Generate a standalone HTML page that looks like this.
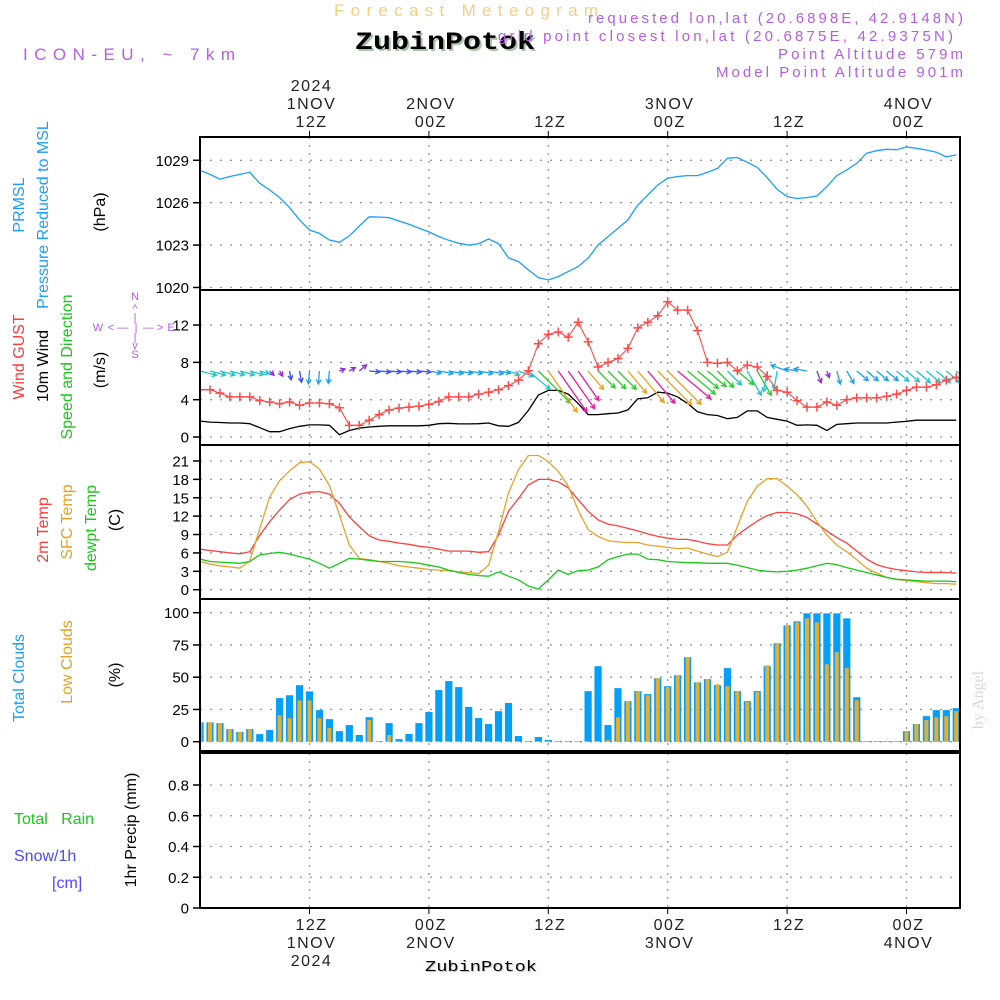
<!DOCTYPE html>
<html><head><meta charset="utf-8">
<style>
html,body{margin:0;padding:0;background:#fff;}
svg{display:block;font-family:"Liberation Sans",sans-serif;}
</style></head>
<body>
<svg id="chart" xmlns="http://www.w3.org/2000/svg" width="1000" height="1000" viewBox="0 0 1000 1000">
<defs>
<clipPath id="c1"><rect x="200" y="137" width="760" height="153"/></clipPath>
<clipPath id="c2"><rect x="200" y="290" width="760" height="155"/></clipPath>
<clipPath id="c3"><rect x="200" y="445" width="760" height="154"/></clipPath>
<clipPath id="c4"><rect x="200" y="599" width="760" height="152"/></clipPath>
</defs>
<text x="334" y="16" textLength="264" lengthAdjust="spacing" font-size="17" fill="#f3cf86">Forecast Meteogram</text>
<text x="357" y="51" textLength="180" lengthAdjust="spacingAndGlyphs" font-size="25" font-weight="bold" font-family="Liberation Mono,monospace" fill="#a9c2a9">ZubinPotok</text>
<text x="355" y="49" textLength="180" lengthAdjust="spacingAndGlyphs" font-size="25" font-weight="bold" font-family="Liberation Mono,monospace" fill="#000">ZubinPotok</text>
<text x="23" y="60" textLength="212" lengthAdjust="spacing" font-size="17" fill="#b45ee8">ICON-EU, ~ 7km</text>
<g font-size="15" fill="#b45ee8">
<text x="588" y="23" textLength="375" lengthAdjust="spacing">requested lon,lat (20.6898E, 42.9148N)</text>
<text x="498" y="41" textLength="455" lengthAdjust="spacing">grid point closest lon,lat (20.6875E, 42.9375N)</text>
<text x="778" y="59" textLength="185" lengthAdjust="spacing">Point Altitude 579m</text>
<text x="716" y="77" textLength="247" lengthAdjust="spacing">Model Point Altitude 901m</text>
</g>
<g id="grid"></g>
<g id="marks"></g>
<g id="axes"></g>
<g font-size="16">
<text transform="translate(24,205) rotate(-90)" text-anchor="middle" fill="#1a9fff">PRMSL</text>
<text transform="translate(48,215) rotate(-90)" text-anchor="middle" fill="#1a9fff">Pressure Reduced to MSL</text>
<text transform="translate(105,212) rotate(-90)" text-anchor="middle" fill="#000">(hPa)</text>
<text transform="translate(24,357) rotate(-90)" text-anchor="middle" fill="#ff3a3a">Wind GUST</text>
<text transform="translate(48,366) rotate(-90)" text-anchor="middle" fill="#000">10m Wind</text>
<text transform="translate(72,367) rotate(-90)" text-anchor="middle" fill="#19c819">Speed and Direction</text>
<text transform="translate(105,370) rotate(-90)" text-anchor="middle" fill="#000">(m/s)</text>
<text transform="translate(48,530) rotate(-90)" text-anchor="middle" fill="#ff3a3a">2m Temp</text>
<text transform="translate(72,522) rotate(-90)" text-anchor="middle" fill="#e8a020">SFC Temp</text>
<text transform="translate(96,528) rotate(-90)" text-anchor="middle" fill="#19c819">dewpt Temp</text>
<text transform="translate(120,520) rotate(-90)" text-anchor="middle" fill="#000">(C)</text>
<text transform="translate(24,678) rotate(-90)" text-anchor="middle" fill="#1a9fff">Total Clouds</text>
<text transform="translate(72,662) rotate(-90)" text-anchor="middle" fill="#e8a020">Low Clouds</text>
<text transform="translate(120,675) rotate(-90)" text-anchor="middle" fill="#000">(%)</text>
<text x="14" y="824" fill="#19c819">Total&#160;&#160;&#160;Rain</text>
<text x="14" y="861" fill="#4a4aff">Snow/1h</text>
<text x="52" y="888" fill="#4a4aff">[cm]</text>
<text transform="translate(136,830) rotate(-90)" text-anchor="middle" fill="#000">1hr Precip (mm)</text>
</g>
<g fill="#b45ee8" font-size="11" text-anchor="middle">
<text x="135" y="300">N</text><text x="135" y="312">^</text><text x="135" y="321">|</text>
<text x="98" y="331">W</text><text x="118" y="331">&lt; —</text><text x="136" y="331">|</text><text x="153" y="331">— &gt;</text><text x="171" y="331">E</text>
<text x="135" y="341">|</text><text x="135" y="349">v</text><text x="135" y="358">S</text>
</g>
<text transform="translate(983,700) rotate(-90)" text-anchor="middle" font-size="16" font-family="Liberation Serif,serif" fill="#d8d8d8">by Angel</text>
<text x="426" y="972" textLength="112" lengthAdjust="spacingAndGlyphs" font-size="15" font-family="Liberation Mono,monospace" fill="#b8c8b8">ZubinPotok</text>
<text x="425" y="971" textLength="112" lengthAdjust="spacingAndGlyphs" font-size="15" font-family="Liberation Mono,monospace" fill="#000">ZubinPotok</text>
</svg>
<script>
const hours = [];
for (let h = 1; h <= 77; h++) hours.push(h);
const pressure = [1028.29,1028.0,1027.66,1027.85,1028.0,1028.15,1027.37,1026.9,1026.36,1025.65,1024.78,1024.07,1023.83,1023.36,1023.2,1023.65,1024.35,1025.0,1024.99,1024.94,1024.7,1024.47,1024.2,1023.93,1023.6,1023.34,1023.13,1023.0,1023.1,1023.43,1023.1,1022.1,1021.83,1021.24,1020.7,1020.53,1020.77,1021.12,1021.48,1022.07,1023.0,1023.6,1024.19,1024.78,1025.84,1026.55,1027.25,1027.73,1027.85,1027.92,1027.92,1028.15,1028.43,1029.14,1029.2,1028.86,1028.5,1027.77,1026.95,1026.43,1026.3,1026.36,1026.48,1027.14,1027.92,1028.32,1028.79,1029.5,1029.68,1029.78,1029.75,1029.94,1029.85,1029.73,1029.57,1029.24,1029.38];
const gust = [5.07,5.07,4.7,4.3,4.3,4.3,3.9,3.75,3.57,3.75,3.4,3.64,3.64,3.57,3.14,1.25,1.25,1.8,2.4,2.9,3.1,3.2,3.3,3.5,3.8,4.3,4.3,4.3,4.6,4.8,5.07,5.5,6.1,7.1,10,11,11.25,10.7,12.3,10.2,7.5,8,8.4,9.5,11.7,12.3,13,14.5,13.6,13.6,11.4,8,7.9,8,7.1,7.7,7.5,6.5,5,4.8,3.9,3.2,3.2,3.75,3.4,4,4.2,4.2,4.2,4.35,4.6,5,5.35,5.35,5.6,6.1,6.4];
const windSpeed = [1.7,1.6,1.55,1.5,1.5,1.43,1,0.57,0.57,0.9,1.15,1.3,1.3,1.25,0.25,0.7,0.95,1.07,1.15,1.2,1.2,1.2,1.2,1.25,1.43,1.47,1.4,1.4,1.43,1.5,1.2,1.15,1.57,2.85,4.5,5,5,4.6,3.6,2.4,2.4,2.5,2.57,2.9,4.1,4.2,4.8,4.7,4.3,3.6,2.7,2.4,2.3,1.96,2.1,2.8,2.8,2.1,1.9,1.7,1.25,1.3,1.25,0.7,1.35,1.43,1.5,1.5,1.5,1.5,1.6,1.68,1.8,1.8,1.8,1.8,1.8];
// direction the wind blows toward, degrees clockwise from east (screen)
const windDir = [15,15,15,15,15,15,15,45,60,80,80,95,95,95,-20,-30,-40,5,5,5,5,5,5,10,10,10,10,10,10,10,10,20,20,40,45,55,55,55,55,50,45,45,45,50,50,50,45,45,40,40,40,40,45,45,40,60,60,100,100,200,190,190,70,70,75,60,40,40,40,40,40,40,40,40,40,40,40];
// arrow class: 0 cyan,1 purple,2 blue,3 light blue,4 green,5 orange,6 magenta
const windCat = [0,0,0,0,0,0,0,1,1,2,2,3,3,3,1,1,1,2,2,2,2,2,2,3,3,3,3,3,3,3,3,0,0,0,4,5,6,6,6,5,4,4,4,5,5,6,5,5,6,4,4,4,4,0,4,0,4,0,0,3,3,3,1,1,3,3,3,3,3,3,0,0,0,0,0,0,0];
const temp2m = [6.6,6.4,6.2,6.0,5.85,6.2,8.9,11.1,13,14.7,15.6,15.9,16,15.6,14.1,11.9,10.3,8.8,8.1,7.9,7.6,7.4,7.1,6.9,6.6,6.3,6.3,6.3,6.1,6.2,8.9,12.8,14.9,17.1,18,18,17.6,16.6,14.7,12.8,11.4,10.7,10.4,10,9.6,9.1,8.7,8.4,8.2,8.2,7.9,7.5,7.3,7.3,8.9,10.1,11.2,12.1,12.6,12.6,12.4,11.8,10.7,9.6,8.5,7.6,6.3,5,4.1,3.6,3.3,3.1,2.9,2.8,2.8,2.8,2.7];
const sfcTemp = [4.6,4.2,3.9,3.7,3.5,4.7,10,15.1,17.8,19.4,20.7,20.9,19.7,17,12.2,7.3,5.1,4.9,4.6,4.3,3.9,3.7,3.5,3.3,3.2,3.1,2.9,2.8,2.6,4,9.5,15.8,19.6,21.9,21.9,20.9,19.3,16.9,13,9.8,8.7,8,7.8,7.7,7.7,7.3,7.1,6.9,6.7,6.8,6.3,5.8,5.4,6.1,10.3,14.4,16.9,18.1,18.1,16.9,15.5,13.6,11.1,8.9,7.3,6.2,4.9,3.5,2.7,2,1.7,1.5,1.3,1.15,1,1,0.9];
const dewpt = [5,4.6,4.5,4.4,4.3,4.6,5.7,5.9,6.1,5.8,5.4,5,4.3,3.5,4.3,5.1,5,4.8,4.6,4.6,4.6,4.5,4.3,4,3.7,3.2,2.8,2.5,2.3,2.2,2.9,2.2,1.6,0.6,0.1,1.6,3.2,2.5,3.1,3.2,3.7,4.9,5.4,5.8,5.8,5,4.9,4.6,4.5,4.4,4.4,4.3,4.3,4.3,4,3.6,3.2,3,2.9,3,3.2,3.5,3.9,4.3,4.1,3.6,3.2,2.8,2.4,2,1.7,1.6,1.5,1.4,1.4,1.4,1.3];
const totalClouds = [15,15,14.4,9.8,7.5,9.8,5.9,9,33.8,36,43.8,39,24.5,17.5,8.2,12.9,5.2,19,0.5,14.4,2,6,14.4,23,40,47,42.3,27,18.3,13.7,23.7,30,4.4,0.5,3.6,1.3,0.5,0.5,0.5,39.2,58.5,12.9,41.5,31.4,39.2,36.9,49.2,43,51.5,65.5,46,48.5,43.8,57,39.2,31.4,39.2,58.5,76.3,90.2,93.3,99.5,99.5,99.5,99.5,95.6,34.5,0.5,0.5,0.5,0.5,8.2,13.7,19.8,24.5,24.5,26];
const lowClouds = [15,15,14.4,9.8,7.5,9.8,0.5,0.5,20.6,18.3,32,32,18.3,10.6,0.5,0.5,0.5,16.8,0.5,5.2,0.5,0.5,0.5,0.5,0.5,0.5,0.5,0.5,0.5,0.5,0.5,0.5,0.5,0.5,0.5,0.5,0.5,0.5,0.5,0.5,0.5,1.3,19,31.4,39.2,36,49.2,42.3,51.5,65.5,46,48.5,44.6,43,39.2,30.7,38.4,59.3,76.3,90.2,92.5,95.6,92.5,60,69.3,57,32.2,0.5,0.5,0.5,0.5,8.2,13.7,16.8,19,19.8,23.7];
const precip = hours.map(() => 0);
const pTicks = [1020,1023,1026,1029];
const wTicks = [0,4,8,12];
const tTicks = [0,3,6,9,12,15,18,21];
const cTicks = [0,25,50,75,100];
const rTicks = [0,0.2,0.4,0.6,0.8];
const timeTicks = [12,24,36,48,60,72];
const topLabels = [["12Z","1NOV","2024"],["00Z","2NOV"],["12Z"],["00Z","3NOV"],["12Z"],["00Z","4NOV"]];
const botLabels = [["12Z","1NOV","2024"],["00Z","2NOV"],["12Z"],["00Z","3NOV"],["12Z"],["00Z","4NOV"]];

const NS = "http://www.w3.org/2000/svg";
const X = h => 309.5 + (h - 12) * 9.95;
const YP = p => 160.3 + (1029 - p) * 14.13;
const YW = v => 437 - v * 9.33;
const YT = t => 589.7 - t * 6.13;
const YC = c => 741.7 - c * 1.29;
const YR = r => 908 - r * 153.75;
const panels = [[137,290],[290,445],[445,599],[599,751],[753,908]];

function mk(tag, attrs, parent) {
  const e = document.createElementNS(NS, tag);
  for (const k in attrs) e.setAttribute(k, attrs[k]);
  parent.appendChild(e);
  return e;
}
const grid = document.getElementById('grid');
const axes = document.getElementById('axes');
const marks = document.getElementById('marks');

timeTicks.forEach(h => {
  panels.forEach(p => {
    const l = mk('line', {x1:X(h), x2:X(h), y1:p[0], y2:p[1], stroke:'#999', 'stroke-width':1.3, 'stroke-dasharray':'2,6'}, grid);
    
    
  });
});
function hgrid(ticks, Y, fmt) {
  ticks.forEach(v => {
    const y = Y(v);
    const l = mk('line', {x1:200, x2:960, y1:y, y2:y, stroke:'#999', 'stroke-width':1.3, 'stroke-dasharray':'2,8'}, grid);
    
    
    mk('line', {x1:193, x2:200, y1:y, y2:y, stroke:'#000', 'stroke-width':1.5}, axes);
    const t = mk('text', {x:189, y:y + 5.5, 'text-anchor':'end', 'font-size':15, fill:'#000'}, axes);
    t.textContent = fmt(v);
    
    
  });
}
hgrid(pTicks, YP, v => v);
hgrid(wTicks, YW, v => v);
hgrid(tTicks, YT, v => v);
hgrid(cTicks, YC, v => v);
hgrid(rTicks, YR, v => v === 0 ? '0' : v.toFixed(1));

panels.forEach((p, i) => {
  const r = mk('rect', {x:200, y:p[0], width:760, height:p[1]-p[0], fill:'none', stroke:'#000', 'stroke-width':2}, axes);
  
  
});
mk('line', {x1:200, x2:960, y1:908, y2:908, stroke:'#000', 'stroke-width':1.5, 'stroke-dasharray':'5,3'}, axes);

timeTicks.forEach((h, i) => {
  mk('line', {x1:X(h), x2:X(h), y1:131, y2:137, stroke:'#000', 'stroke-width':1}, axes);
  mk('line', {x1:X(h), x2:X(h), y1:908, y2:914, stroke:'#000', 'stroke-width':1}, axes);
  topLabels[i].forEach((s, j) => {
    const t = mk('text', {x:X(h)+2, y:127 - j*18, 'text-anchor':'middle', 'font-size':16, 'letter-spacing':1.5, fill:'#222'}, axes);
    t.textContent = s;
    
    
  });
  botLabels[i].forEach((s, j) => {
    const t = mk('text', {x:X(h)+2, y:930 + j*18, 'text-anchor':'middle', 'font-size':16, 'letter-spacing':1.5, fill:'#222'}, axes);
    t.textContent = s;
    
    
  });
});

function polyline(vals, Y, color, clip, name, w) {
  const pts = vals.map((v, i) => X(hours[i]).toFixed(1) + ',' + Y(v).toFixed(1)).join(' ');
  const pl = mk('polyline', {points:pts, fill:'none', stroke:color, 'stroke-width':w || 1.3, 'clip-path':'url(#' + clip + ')'}, marks);
  
  
}
polyline(pressure, YP, '#1a9fff', 'c1', 'pressure-line');
polyline(windSpeed, YW, '#000', 'c2', 'wind-speed-line', 1.3);
const catColors = ['#22c4cc','#8a2be2','#3a4cff','#1aa0f0','#22d022','#f0a020','#f01a9a'];
const arrowG = mk('g', {'clip-path':'url(#c2)'}, marks);


hours.forEach((h, i) => {
  const len = Math.max(6, windSpeed[i] * 10);
  const a = windDir[i] * Math.PI / 180;
  const x0 = X(h), y0 = 371;
  const x1 = x0 + Math.cos(a) * len, y1 = y0 + Math.sin(a) * len;
  const c = catColors[windCat[i]];
  const ah = 5;
  const b1 = a + Math.PI - 0.5, b2 = a + Math.PI + 0.5;
  const p = mk('path', {d:`M${x0},${y0}L${x1},${y1}M${x1+Math.cos(b1)*ah},${y1+Math.sin(b1)*ah}L${x1},${y1}L${x1+Math.cos(b2)*ah},${y1+Math.sin(b2)*ah}`, stroke:c, 'stroke-width':1.3, fill:'none'}, arrowG);
  
  
});
polyline(gust, YW, '#ff4a4a', 'c2', 'gust-line', 1.1);
hours.forEach((h, i) => {
  const x = X(h), y = YW(gust[i]);
  const p = mk('path', {d:`M${x-4.5},${y}H${x+4.5}M${x},${y-4.5}V${y+4.5}`, stroke:'#ff4a4a', 'stroke-width':1.5, 'clip-path':'url(#c2)'}, marks);
  
  
});
polyline(temp2m, YT, '#ff4040', 'c3', 'temp-2m-line');
polyline(sfcTemp, YT, '#eaa22a', 'c3', 'sfc-temp-line');
polyline(dewpt, YT, '#19c819', 'c3', 'dewpoint-line');
hours.forEach((h, i) => {
  const x = X(h);
  const yb = YC(totalClouds[i]);
  const b = mk('rect', {x:x-3.6, y:yb, width:7.2, height:YC(0)-yb, fill:'#049ff8', 'clip-path':'url(#c4)'}, marks);
  
  
  const yl = YC(lowClouds[i]);
  const o = mk('rect', {x:x-2, y:yl, width:4, height:YC(0)-yl, fill:'#e6ae2c', 'clip-path':'url(#c4)'}, marks);
  
  
});
hours.forEach((h, i) => {
  if (precip[i] <= 0) return;
  const x = X(h), y = YR(precip[i]);
  const b = mk('rect', {x:x-3.5, y:y, width:7, height:908-y, fill:'#19c819'}, marks);
  
  
});
</script>
</body></html>
